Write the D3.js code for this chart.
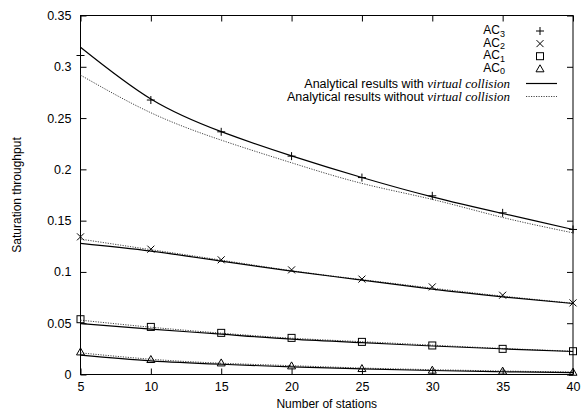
<!DOCTYPE html>
<html>
<head>
<meta charset="utf-8">
<script src="https://cdn.jsdelivr.net/npm/d3@7"></script>
<style>
  body { margin: 0; background: #fff; }
  svg text { font-family: "Liberation Sans", Arial, sans-serif; }
</style>
</head>
<body>
<svg id="chart"></svg>
<script>
// number of stations
var stations = [5, 10, 15, 20, 25, 30, 35, 40];

// simulation points
var ac3Sim = [0.311, 0.2676, 0.2366, 0.2129, 0.192, 0.1742, 0.1576, 0.1414];
var ac2Sim = [0.1342, 0.1222, 0.1118, 0.102, 0.093, 0.0854, 0.0773, 0.0698];
var ac1Sim = [0.0539, 0.0464, 0.0406, 0.0357, 0.0318, 0.0283, 0.025, 0.0227];
var ac0Sim = [0.022, 0.0146, 0.0113, 0.0084, 0.0058, 0.0042, 0.0033, 0.0022];

// analytical, with virtual collision
var ac3With = [0.319, 0.2686, 0.2368, 0.2132, 0.1921, 0.1732, 0.157, 0.1414];
var ac2With = [0.1278, 0.1203, 0.1105, 0.1008, 0.092, 0.0832, 0.0757, 0.0692];
var ac1With = [0.0497, 0.0442, 0.0393, 0.0344, 0.031, 0.0278, 0.025, 0.0224];
var ac0With = [0.0188, 0.0133, 0.01, 0.0074, 0.0055, 0.0039, 0.0027, 0.0018];

// analytical, without virtual collision
var ac3Without = [0.2919, 0.2552, 0.2285, 0.2064, 0.1863, 0.1707, 0.1531, 0.1381];
var ac2Without = [0.132, 0.1217, 0.1115, 0.1012, 0.0925, 0.0842, 0.0764, 0.0695];
var ac1Without = [0.053, 0.0461, 0.0403, 0.0354, 0.032, 0.0286, 0.0254, 0.0227];
var ac0Without = [0.0211, 0.0149, 0.011, 0.0086, 0.0063, 0.0047, 0.0034, 0.0024];

var xTicks = [5, 10, 15, 20, 25, 30, 35, 40];
var yTicks = [0, 0.05, 0.1, 0.15, 0.2, 0.25, 0.3, 0.35];

var width = 582, height = 413;
var margin = {top: 15.5, right: 9, bottom: 38.5, left: 80.5};
var w = width - margin.left - margin.right,
    h = height - margin.top - margin.bottom;

var svg = d3.select("#chart")
  .attr("width", width)
  .attr("height", height);

var g = svg.append("g")
  .attr("transform", "translate(" + margin.left + "," + margin.top + ")");

var x = d3.scaleLinear().domain([5, 40]).range([0, w]);
var y = d3.scaleLinear().domain([0, 0.35]).range([h, 0]);

// axes, ticks pointing inward like gnuplot
var fmtY = function(d) { return d === 0 ? "0" : String(+d.toFixed(2)); };

g.append("g")
  .attr("class", "axis")
  .call(d3.axisLeft(y).tickValues(yTicks).tickSizeInner(-6).tickSizeOuter(0).tickPadding(9).tickFormat(fmtY));
g.append("g")
  .attr("class", "axis")
  .attr("transform", "translate(" + w + ",0)")
  .call(d3.axisRight(y).tickValues(yTicks).tickSizeInner(-6).tickSizeOuter(0).tickFormat(""));
g.append("g")
  .attr("class", "axis")
  .attr("transform", "translate(0," + h + ")")
  .call(d3.axisBottom(x).tickValues(xTicks).tickSizeInner(-6).tickSizeOuter(0).tickPadding(8));
g.append("g")
  .attr("class", "axis")
  .call(d3.axisTop(x).tickValues(xTicks).tickSizeInner(-6).tickSizeOuter(0).tickFormat(""));

g.selectAll(".axis .domain").remove();
g.selectAll(".axis text")
  .style("font-size", "12.5px")
  .attr("fill", "#000");
g.selectAll(".axis line").attr("stroke", "#000");

g.append("rect")
  .attr("width", w)
  .attr("height", h)
  .attr("fill", "none")
  .attr("stroke", "#000")
  .attr("stroke-width", 1);

// curves
var line = d3.line()
  .x(function(d, i) { return x(stations[i]); })
  .y(function(d) { return y(d); })
  .curve(d3.curveNatural);

[ac3Without, ac2Without, ac1Without, ac0Without].forEach(function(s) {
  g.append("path")
    .attr("d", line(s))
    .attr("fill", "none")
    .attr("stroke", "#444")
    .attr("stroke-width", 1)
    .attr("stroke-dasharray", "1.2,1.3");
});

[ac3With, ac2With, ac1With, ac0With].forEach(function(s) {
  g.append("path")
    .attr("d", line(s))
    .attr("fill", "none")
    .attr("stroke", "#000")
    .attr("stroke-width", 1.2);
});

// markers
function drawMarker(sel, type) {
  if (type === "plus") {
    sel.append("path").attr("d", "M-4,0H4M0,-4V4");
  } else if (type === "cross") {
    sel.append("path").attr("d", "M-3.5,-3.5L3.5,3.5M-3.5,3.5L3.5,-3.5");
  } else if (type === "square") {
    sel.append("rect").attr("x", -3.5).attr("y", -3.5).attr("width", 7).attr("height", 7);
  } else {
    sel.append("path").attr("d", "M0,-4L4,3L-4,3Z");
  }
  sel.selectAll("path, rect")
    .attr("fill", "none")
    .attr("stroke", "#000")
    .attr("stroke-width", 1);
}

var simSeries = [
  {vals: ac3Sim, type: "plus"},
  {vals: ac2Sim, type: "cross"},
  {vals: ac1Sim, type: "square"},
  {vals: ac0Sim, type: "tri"}
];

simSeries.forEach(function(s) {
  s.vals.forEach(function(v, i) {
    var m = g.append("g")
      .attr("transform", "translate(" + x(stations[i]) + "," + y(v) + ")");
    drawMarker(m, s.type);
  });
});

// legend
var legendNames = ["3", "2", "1", "0"];
var legendTypes = ["plus", "cross", "square", "tri"];
var lgX = 505, symX = 540, rowY = 31, rowH = 12.6;

legendNames.forEach(function(n, i) {
  var t = svg.append("text")
    .attr("x", lgX)
    .attr("y", rowY + i * rowH + 3)
    .attr("text-anchor", "end")
    .style("font-size", "12px");
  t.append("tspan").text("AC");
  t.append("tspan").attr("dy", 2.5).style("font-size", "9px").text(n);
  var m = svg.append("g")
    .attr("transform", "translate(" + symX + "," + (rowY + i * rowH) + ")");
  drawMarker(m, legendTypes[i]);
});

var lineLabels = ["Analytical results with ", "Analytical results without "];
lineLabels.forEach(function(lbl, i) {
  var yy = 83.5 + i * 13;
  var t = svg.append("text")
    .attr("x", 510)
    .attr("y", yy + 4)
    .attr("text-anchor", "end")
    .style("font-size", "12.5px");
  t.append("tspan").text(lbl);
  t.append("tspan")
    .style("font-family", "'Liberation Serif', 'Times New Roman', serif")
    .style("font-style", "italic")
    .style("font-size", "13px")
    .text("virtual collision");
  svg.append("line")
    .attr("x1", 526).attr("x2", 557)
    .attr("y1", yy).attr("y2", yy)
    .attr("stroke", i === 0 ? "#000" : "#444")
    .attr("stroke-width", i === 0 ? 1.2 : 1)
    .attr("stroke-dasharray", i === 0 ? null : "1.2,1.3");
});

// axis titles
svg.append("text")
  .attr("x", margin.left + w / 2)
  .attr("y", 408)
  .attr("text-anchor", "middle")
  .style("font-size", "12px")
  .text("Number of stations");

svg.append("text")
  .attr("transform", "translate(21," + (margin.top + h / 2) + ") rotate(-90)")
  .attr("text-anchor", "middle")
  .style("font-size", "12px")
  .text("Saturation throughput");
</script>
</body>
</html>
